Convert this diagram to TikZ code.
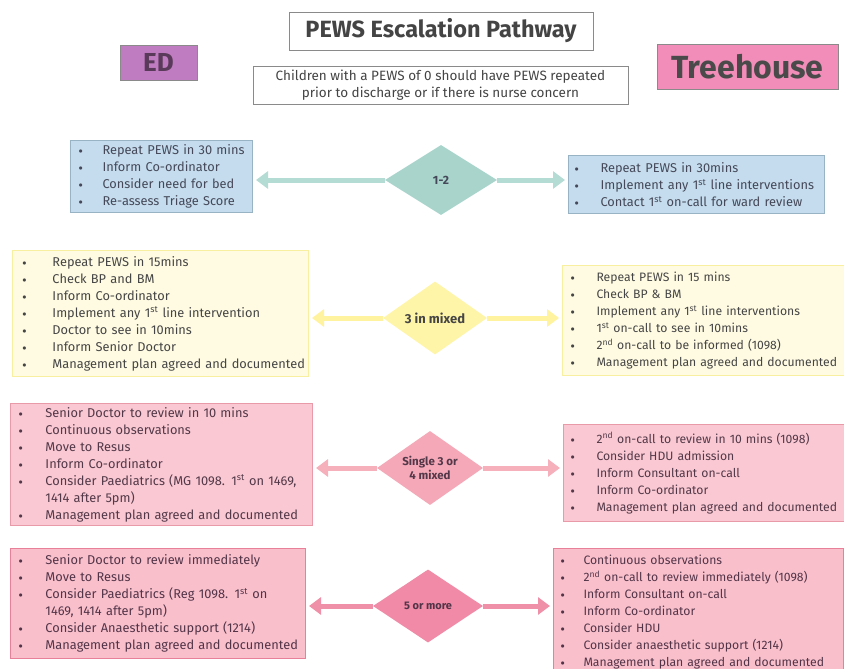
\documentclass[tikz,border=0pt]{standalone}
\usepackage{fontspec}
\setmainfont{Fira Sans}
\usetikzlibrary{shapes.geometric,arrows.meta}

\definecolor{edfill}{HTML}{C07CC0}
\definecolor{edtext}{HTML}{5A3A5A}
\definecolor{thfill}{HTML}{F28CB8}
\definecolor{thtext}{HTML}{4A4A4A}
\definecolor{titletext}{HTML}{444444}
\definecolor{frame}{HTML}{8A8A8A}

\definecolor{bluefill}{HTML}{C4DCED}
\definecolor{blueline}{HTML}{98B4C4}
\definecolor{bluedia}{HTML}{A8D4CC}
\definecolor{bluearr}{HTML}{B4DCD4}
\definecolor{bluetext}{HTML}{454858}

\definecolor{yelfill}{HTML}{FFFBE2}
\definecolor{yelline}{HTML}{F8F0A0}
\definecolor{yeldia}{HTML}{FFF5A8}
\definecolor{yelarr}{HTML}{FFF3A0}
\definecolor{yeltext}{HTML}{454545}

\definecolor{pinkfill}{HTML}{F9C8D2}
\definecolor{pinkline}{HTML}{E89AA8}
\definecolor{pinkdia}{HTML}{F5A8B8}
\definecolor{pinkarr}{HTML}{F5B0BC}
\definecolor{pinktext}{HTML}{523848}

\definecolor{redfill}{HTML}{F9C0CC}
\definecolor{redline}{HTML}{E8809A}
\definecolor{reddia}{HTML}{F08AA6}
\definecolor{redarr}{HTML}{F090A8}
\definecolor{redtext}{HTML}{523448}

\newlength\bulw
\newcommand\li[1]{\mbox{\makebox[\bulw][l]{\raisebox{0.1ex}{\footnotesize$\bullet$}}#1}}
\newcommand\hang[1]{\mbox{\hspace*{\bulw}#1}}
\newcommand\st{\textsuperscript{st}}
\newcommand\nd{\textsuperscript{nd}}

\tikzset{
  listbox/.style={draw, line width=1pt, anchor=north west, align=left,
    inner ysep=0pt, font=\fontsize{12.8}{17}\selectfont},
  narrowtext/.style={font=\fontsize{12.2}{17}\selectfont},
  level/.style={diamond, aspect=1.5, inner sep=0pt, align=center},
  flow/.style={line width=5pt, -{Triangle[width=17pt,length=12pt]}, shorten >=3pt},
  plainbox/.style={draw=frame, line width=0.8pt, fill=white, align=center, inner sep=0pt},
}

\begin{document}
\begin{tikzpicture}[x=1pt,y=-1pt]
\clip (0,0) rectangle (844,669);
\fill[white] (0,0) rectangle (844,669);

% header
\node[plainbox, minimum width=304pt, minimum height=38pt,
  font=\fontsize{23.5}{26}\selectfont\bfseries, text=titletext] (title) at (441,31) {PEWS Escalation Pathway};
\node[draw=frame, line width=0.8pt, fill=edfill, minimum width=77pt, minimum height=35pt,
  font=\fontsize{26}{28}\selectfont\bfseries, text=edtext] (ed) at (158.5,62.5) {ED};
\node[draw=frame, line width=0.8pt, fill=thfill, minimum width=181pt, minimum height=45pt,
  font=\fontsize{32}{34}\selectfont\bfseries, text=thtext] (tree) at (747.5,66.5) {Treehouse};
\node[plainbox, minimum width=375pt, minimum height=38pt,
  font=\fontsize{13.5}{17}\selectfont, text=titletext] (note) at (440.5,85)
  {Children with a PEWS of 0 should have PEWS repeated\\prior to discharge or if there is nurse concern};

% row 1 : 1-2
\node[listbox, draw=blueline, fill=bluefill, text=bluetext, inner xsep=8pt,
  text width=166pt, minimum height=72pt] (l1) at (70,140)
  {\setlength\bulw{24pt}%
   \li{Repeat PEWS in 30 mins}\\
   \li{Inform Co-ordinator}\\
   \li{Consider need for bed}\\
   \li{Re-assess Triage Score}};
\node[listbox, draw=blueline, fill=bluefill, text=bluetext, inner xsep=6pt,
  text width=244pt, minimum height=58pt] (r1) at (568,155)
  {\setlength\bulw{26pt}%
   \li{Repeat PEWS in 30mins}\\
   \li{Implement any 1\st{} line interventions}\\
   \li{Contact 1\st{} on-call for ward review}};
\node[level, fill=bluedia, text=bluetext, minimum width=112pt, minimum height=70pt,
  font=\fontsize{12}{14}\selectfont\bfseries] (d1) at (441,180) {1-2};
\draw[flow, draw=bluearr] (d1.west) -- (d1.west -| l1.east);
\draw[flow, draw=bluearr] (d1.east) -- (d1.east -| r1.west);

% row 2 : 3 in mixed
\node[listbox, draw=yelline, fill=yelfill, text=yeltext, inner xsep=10pt,
  text width=276pt, minimum height=126pt] (l2) at (12,250)
  {\setlength\bulw{30pt}%
   \li{Repeat PEWS in 15mins}\\
   \li{Check BP and BM}\\
   \li{Inform Co-ordinator}\\
   \li{Implement any 1\st{} line intervention}\\
   \li{Doctor to see in 10mins}\\
   \li{Inform Senior Doctor}\\
   \li{Management plan agreed and documented}};
\node[listbox, narrowtext, draw=yelline, fill=yelfill, text=yeltext, inner xsep=8pt,
  text width=280pt, minimum height=110pt] (r2) at (562,265)
  {\setlength\bulw{26pt}%
   \li{Repeat PEWS in 15 mins}\\
   \li{Check BP \& BM}\\
   \li{Implement any 1\st{} line interventions}\\
   \li{1\st{} on-call to see in 10mins}\\
   \li{2\nd{} on-call to be informed (1098)}\\
   \li{Management plan agreed and documented}};
\node[level, fill=yeldia, text=yeltext, minimum width=104pt, minimum height=73pt,
  font=\fontsize{13}{14}\selectfont\bfseries] (d2) at (435,318) {3 in mixed};
\draw[flow, draw=yelarr] (d2.west) -- (d2.west -| l2.east);
\draw[flow, draw=yelarr] (d2.east) -- (d2.east -| r2.west);

% row 3 : single 3 or 4 mixed
\node[listbox, draw=pinkline, fill=pinkfill, text=pinktext, inner xsep=8pt,
  text width=286pt, minimum height=122pt] (l3) at (10,403)
  {\setlength\bulw{27pt}%
   \li{Senior Doctor to review in 10 mins}\\
   \li{Continuous observations}\\
   \li{Move to Resus}\\
   \li{Inform Co-ordinator}\\
   \li{Consider Paediatrics (MG 1098. 1\st{} on 1469,}\\
   \hang{1414 after 5pm)}\\
   \li{Management plan agreed and documented}};
\node[listbox, narrowtext, draw=pinkline, fill=pinkfill, text=pinktext, inner xsep=7pt,
  text width=280pt, minimum height=97pt] (r3) at (563,424)
  {\setlength\bulw{26pt}%
   \li{2\nd{} on-call to review in 10 mins (1098)}\\
   \li{Consider HDU admission}\\
   \li{Inform Consultant on-call}\\
   \li{Inform Co-ordinator}\\
   \li{Management plan agreed and documented}};
\node[level, fill=pinkdia, text=pinktext, minimum width=106pt, minimum height=74pt,
  font=\fontsize{11.5}{14}\selectfont\bfseries] (d3) at (430,468) {Single 3 or\\4 mixed};
\draw[flow, draw=pinkarr] (d3.west) -- (d3.west -| l3.east);
\draw[flow, draw=pinkarr] (d3.east) -- (d3.east -| r3.west);

% row 4 : 5 or more
\node[listbox, draw=redline, fill=redfill, text=redtext, inner xsep=8pt,
  text width=279pt, minimum height=110pt] (l4) at (10,548)
  {\setlength\bulw{27pt}%
   \li{Senior Doctor to review immediately}\\
   \li{Move to Resus}\\
   \li{Consider Paediatrics (Reg 1098. 1\st{} on}\\
   \hang{1469, 1414 after 5pm)}\\
   \li{Consider Anaesthetic support (1214)}\\
   \li{Management plan agreed and documented}};
\node[listbox, narrowtext, draw=redline, fill=redfill, text=redtext, inner xsep=7pt,
  text width=276pt, minimum height=127pt] (r4) at (553,548)
  {\setlength\bulw{23pt}%
   \li{Continuous observations}\\
   \li{2\nd{} on-call to review immediately (1098)}\\
   \li{Inform Consultant on-call}\\
   \li{Inform Co-ordinator}\\
   \li{Consider HDU}\\
   \li{Consider anaesthetic support (1214)}\\
   \li{Management plan agreed and documented}};
\node[level, fill=reddia, text=redtext, minimum width=110pt, minimum height=73pt,
  font=\fontsize{11}{13}\selectfont\bfseries] (d4) at (428,606) {5 or more};
\draw[flow, draw=redarr] (d4.west) -- (d4.west -| l4.east);
\draw[flow, draw=redarr] (d4.east) -- (d4.east -| r4.west);
\end{tikzpicture}
\end{document}
